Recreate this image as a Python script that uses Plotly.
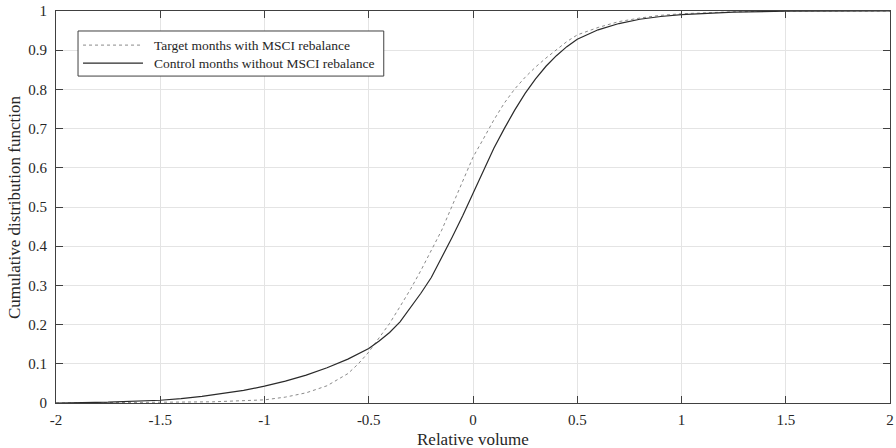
import plotly.graph_objects as go

# Empirical CDF of relative trading volume
x_target = [-2.0, -1.5, -1.25, -1.0, -0.9, -0.8, -0.7, -0.6, -0.55, -0.5, -0.45, -0.4,
            -0.35, -0.3, -0.25, -0.2, -0.15, -0.1, -0.05, 0.0, 0.05, 0.1, 0.15, 0.2,
            0.25, 0.3, 0.35, 0.4, 0.45, 0.5, 0.6, 0.7, 0.8, 0.9, 1.0, 1.25, 1.5, 2.0]
cdf_target = [0.0, 0.001, 0.003, 0.008, 0.015, 0.026, 0.044, 0.075, 0.100, 0.130, 0.165, 0.203,
              0.246, 0.290, 0.338, 0.390, 0.441, 0.503, 0.565, 0.627, 0.674, 0.722, 0.765, 0.801,
              0.831, 0.857, 0.880, 0.901, 0.922, 0.939, 0.958, 0.973, 0.982, 0.989, 0.993, 0.998, 1.0, 1.0]

x_control = [-2.0, -1.75, -1.5, -1.4, -1.3, -1.2, -1.1, -1.0, -0.9, -0.8, -0.7, -0.6, -0.5,
             -0.45, -0.4, -0.35, -0.3, -0.25, -0.2, -0.15, -0.1, -0.05, 0.0, 0.05, 0.1,
             0.15, 0.2, 0.25, 0.3, 0.35, 0.4, 0.45, 0.5, 0.6, 0.7, 0.8, 0.9, 1.0, 1.1,
             1.25, 1.5, 1.75, 2.0]
cdf_control = [0.0, 0.002, 0.007, 0.011, 0.017, 0.024, 0.032, 0.043, 0.056, 0.071, 0.090, 0.112, 0.139,
               0.158, 0.180, 0.207, 0.243, 0.280, 0.320, 0.370, 0.423, 0.477, 0.535, 0.595, 0.650,
               0.700, 0.747, 0.790, 0.827, 0.859, 0.886, 0.909, 0.928, 0.952, 0.968, 0.979, 0.986, 0.991, 0.994,
               0.997, 0.9995, 1.0, 1.0]

series_names = ["Target months with MSCI rebalance", "Control months without MSCI rebalance"]

x_ticks = [-2, -1.5, -1, -0.5, 0, 0.5, 1, 1.5, 2]
x_tick_text = ["-2", "-1.5", "-1", "-0.5", "0", "0.5", "1", "1.5", "2"]
y_ticks = [0, 0.1, 0.2, 0.3, 0.4, 0.5, 0.6, 0.7, 0.8, 0.9, 1]
y_tick_text = ["0", "0.1", "0.2", "0.3", "0.4", "0.5", "0.6", "0.7", "0.8", "0.9", "1"]

FONT = "Liberation Serif, Times New Roman, serif"
AXIS_COLOR = "#404040"
TEXT_COLOR = "#262626"
STYLES = [
    dict(color="#8a8a8a", width=1, dash="3px,3px"),
    dict(color="#2a2a2a", width=1.2),
]

fig = go.Figure()
fig.add_trace(go.Scatter(x=x_target, y=cdf_target, mode="lines",
                         name=series_names[0], line=STYLES[0], showlegend=False))
fig.add_trace(go.Scatter(x=x_control, y=cdf_control, mode="lines",
                         name=series_names[1], line=STYLES[1], showlegend=False))

axis_common = dict(
    showline=True, linecolor=AXIS_COLOR, linewidth=1.2, mirror="allticks",
    ticks="inside", ticklen=7, tickcolor=AXIS_COLOR, tickwidth=1.2,
    showgrid=True, gridcolor="#e4e4e4", gridwidth=1, zeroline=False,
    tickfont=dict(family=FONT, size=15, color=TEXT_COLOR),
    automargin=False,
)

# Boxed legend in the upper-left corner, with long line samples
box = dict(x0=0.0264, x1=0.393, y0=0.834, y1=0.949)
row_y = [0.913, 0.867]
sample_x = [0.0324, 0.1043]
text_x = 0.1151

shapes = [dict(type="rect", xref="paper", yref="paper", **box,
               line=dict(color=AXIS_COLOR, width=1), fillcolor="white", layer="above")]
annotations = []
for name, style, yy in zip(series_names, STYLES, row_y):
    shapes.append(dict(type="line", xref="paper", yref="paper",
                       x0=sample_x[0], x1=sample_x[1], y0=yy, y1=yy,
                       line=style, layer="above"))
    annotations.append(dict(text=name, xref="paper", yref="paper", x=text_x, y=yy,
                            xanchor="left", yanchor="middle", showarrow=False,
                            font=dict(family=FONT, size=13.5, color=TEXT_COLOR)))

# Axis titles
annotations.append(dict(text="Relative volume", xref="paper", yref="paper",
                        x=0.5, y=-0.094, xanchor="center", yanchor="middle", showarrow=False,
                        font=dict(family=FONT, size=17, color=TEXT_COLOR)))
annotations.append(dict(text="Cumulative distribution function", xref="paper", yref="paper",
                        x=-0.0504, y=0.5, xanchor="center", yanchor="middle", showarrow=False,
                        textangle=-90, font=dict(family=FONT, size=17, color=TEXT_COLOR)))

fig.update_layout(
    width=896, height=448,
    margin=dict(l=56, r=6, t=11, b=45),
    paper_bgcolor="white", plot_bgcolor="white",
    font=dict(family=FONT, color=TEXT_COLOR),
    xaxis=dict(range=[-2, 2], tickvals=x_ticks, ticktext=x_tick_text,
               ticklabelstandoff=3, **axis_common),
    yaxis=dict(range=[0, 1], tickvals=y_ticks, ticktext=y_tick_text,
               ticklabelstandoff=5, **axis_common),
    shapes=shapes,
    annotations=annotations,
    showlegend=False,
)

fig.write_html("out.html")
